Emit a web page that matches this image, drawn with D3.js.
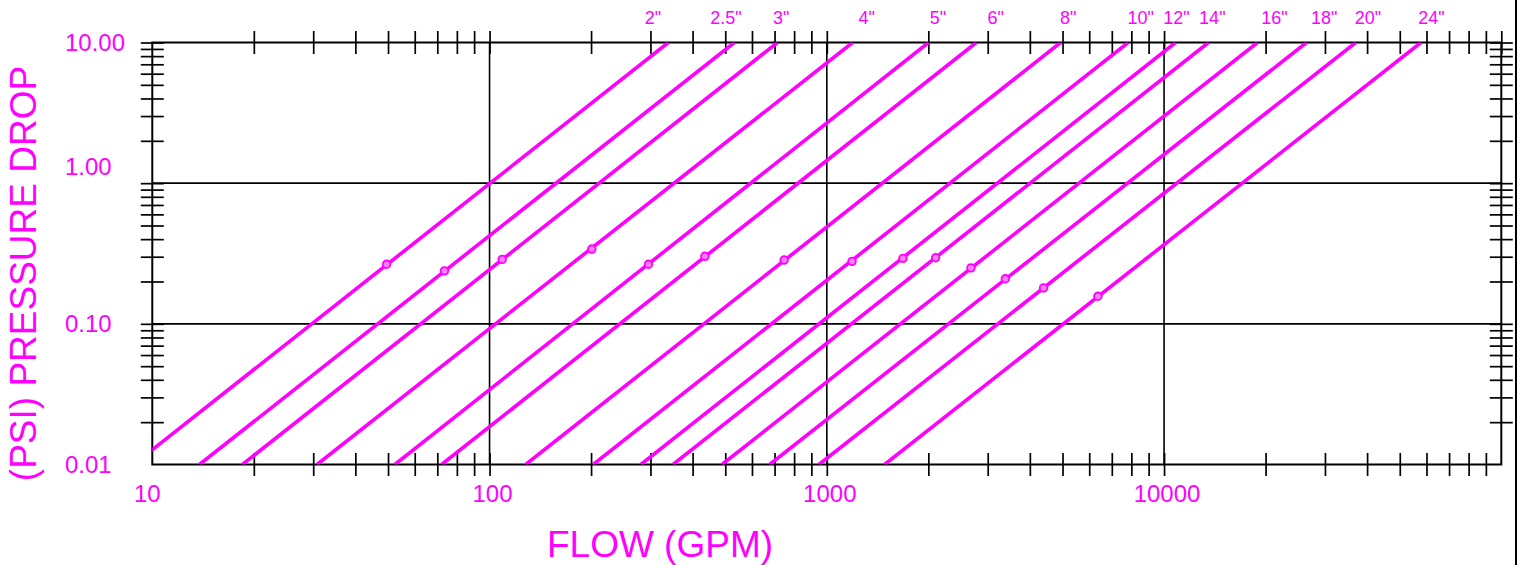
<!DOCTYPE html>
<html>
<head>
<meta charset="utf-8">
<script src="https://cdn.jsdelivr.net/npm/d3@7"></script>
<style>
  body { margin: 0; background: #fff; }
  svg { display: block; font-family: "Liberation Sans", Arial, sans-serif; }
</style>
</head>
<body>
<div id="chart"></div>
<script>
// pipe sizes and their pressure drop lines (flow in GPM at 0.01 psi and at 10 psi)
const pipeSizes = ['2"', '2.5"', '3"', '4"', '5"', '6"', '8"', '10"', '12"', '14"', '16"', '18"', '20"', '24"'];
const flowAtLow = [8.8, 13.8, 18.5, 30.8, 52.4, 72.1, 128, 203, 281, 350, 489, 677, 948, 1484];
const flowAtHigh = [339, 532, 714, 1193, 2003, 2776, 4934, 7828, 10817, 13548, 18930, 26450, 37020, 57780];
const labelFlow = [305, 502, 733, 1313, 2137, 3168, 5196, 8520, 10890, 13904, 21260, 29840, 40210, 62060];

// marked points on each line
const markerFlow = [49.5, 73.5, 109, 201, 296, 435, 747, 1188, 1682, 2102, 2676, 3383, 4393, 6365];
const markerPsi = [0.265, 0.238, 0.287, 0.340, 0.265, 0.302, 0.284, 0.278, 0.292, 0.295, 0.250, 0.209, 0.180, 0.157];

const xTickLabels = [10, 100, 1000, 10000];
const yTickLabels = [0.01, 0.1, 1, 10];

const pLow = 0.01, pHigh = 10;
const magenta = "#ff00ff";

const width = 1522, height = 565;
const plotLeft = 152.3, plotRight = 1501.3, plotTop = 42.5, plotBottom = 464.5;

const svg = d3.select("#chart")
  .append("svg")
  .attr("width", width)
  .attr("height", height);

const x = d3.scaleLog().domain([10, 100000]).range([plotLeft, plotRight]);
const y = d3.scaleLog().domain([0.01, 10]).range([plotBottom, plotTop]);

svg.append("clipPath").attr("id", "plot")
  .append("rect")
  .attr("x", plotLeft).attr("y", plotTop)
  .attr("width", plotRight - plotLeft).attr("height", plotBottom - plotTop);

// grid lines on the decades
svg.append("g")
  .selectAll("line")
  .data(xTickLabels.slice(1))
  .join("line")
  .attr("x1", d => x(d)).attr("x2", d => x(d))
  .attr("y1", plotTop).attr("y2", plotBottom)
  .attr("stroke", "#000").attr("stroke-width", 1.6);

svg.append("g")
  .selectAll("line")
  .data(yTickLabels.slice(1, -1))
  .join("line")
  .attr("x1", plotLeft).attr("x2", plotRight)
  .attr("y1", d => y(d)).attr("y2", d => y(d))
  .attr("stroke", "#000").attr("stroke-width", 1.6);

// ticks that cross the frame
const xt = x.ticks();
const yt = y.ticks();
const tickLen = 11.5;

const bottomAxis = d3.axisBottom(x).tickValues(xt.filter(d => d > 10 && d < 100000))
  .tickSizeInner(tickLen).tickSizeOuter(0).tickFormat("");
const topAxis = d3.axisTop(x).tickValues(xt.filter(d => d > 10))
  .tickSizeInner(tickLen).tickSizeOuter(0).tickFormat("");
const leftAxis = d3.axisLeft(y).tickValues(yt.filter(d => d > 0.01))
  .tickSizeInner(tickLen).tickSizeOuter(0).tickFormat("");
const rightAxis = d3.axisRight(y).tickValues(yt.filter(d => d > 0.01))
  .tickSizeInner(tickLen).tickSizeOuter(0).tickFormat("");

function crossTicks(g, axis, vertical, sign) {
  g.call(axis);
  g.select(".domain").remove();
  g.selectAll(".tick line")
    .attr("stroke", "#000").attr("stroke-width", 1.7)
    .attr(vertical ? "y1" : "x1", -sign * tickLen);
}

svg.append("g").attr("transform", `translate(0,${plotBottom})`)
  .call(g => crossTicks(g, bottomAxis, true, 1));
svg.append("g").attr("transform", `translate(0,${plotTop})`)
  .call(g => crossTicks(g, topAxis, true, -1));
svg.append("g").attr("transform", `translate(${plotLeft},0)`)
  .call(g => crossTicks(g, leftAxis, false, -1));
svg.append("g").attr("transform", `translate(${plotRight},0)`)
  .call(g => crossTicks(g, rightAxis, false, 1));

// frame
svg.append("rect")
  .attr("x", plotLeft).attr("y", plotTop)
  .attr("width", plotRight - plotLeft).attr("height", plotBottom - plotTop)
  .attr("fill", "none").attr("stroke", "#000").attr("stroke-width", 2);

// pressure drop lines
const lineData = pipeSizes.map((s, i) => [[flowAtLow[i], pLow], [flowAtHigh[i], pHigh]]);
const line = d3.line().x(d => x(d[0])).y(d => y(d[1]));

svg.append("g")
  .attr("clip-path", "url(#plot)")
  .selectAll("path")
  .data(lineData)
  .join("path")
  .attr("d", line)
  .attr("fill", "none")
  .attr("stroke", magenta)
  .attr("stroke-width", 3.6);

svg.append("g")
  .selectAll("circle")
  .data(markerFlow)
  .join("circle")
  .attr("cx", d => x(d))
  .attr("cy", (d, i) => y(markerPsi[i]))
  .attr("r", 3.8)
  .attr("fill", "#ff80ff")
  .attr("stroke", magenta)
  .attr("stroke-width", 1.8);

// pipe size labels above the top axis
svg.append("g")
  .selectAll("text")
  .data(pipeSizes)
  .join("text")
  .attr("x", (d, i) => x(labelFlow[i]))
  .attr("y", 24)
  .attr("text-anchor", "middle")
  .attr("font-size", 18)
  .attr("fill", magenta)
  .text(d => d);

// tick labels
svg.append("g")
  .selectAll("text")
  .data(xTickLabels)
  .join("text")
  .attr("x", d => x(d) + (d === 10 ? -5 : 3))
  .attr("y", 502)
  .attr("text-anchor", "middle")
  .attr("font-size", 24)
  .attr("fill", magenta)
  .text(d => d);

svg.append("g")
  .selectAll("text")
  .data(yTickLabels)
  .join("text")
  .attr("x", 65)
  .attr("y", d => y(d) + (d === 1 ? -7.7 : 8.6))
  .attr("font-size", 24)
  .attr("fill", magenta)
  .text(d => d3.format(".2f")(d));

// axis titles
svg.append("text")
  .attr("x", 660)
  .attr("y", 557)
  .attr("text-anchor", "middle")
  .attr("font-size", 37)
  .attr("fill", magenta)
  .text("FLOW (GPM)");

svg.append("text")
  .attr("transform", "translate(36,273.5) rotate(-90)")
  .attr("text-anchor", "middle")
  .attr("font-size", 37)
  .attr("fill", magenta)
  .text("(PSI) PRESSURE DROP");

// right border of the picture
svg.append("line")
  .attr("x1", 1516).attr("x2", 1516)
  .attr("y1", 0).attr("y2", height)
  .attr("stroke", "#000").attr("stroke-width", 2);
</script>
</body>
</html>
